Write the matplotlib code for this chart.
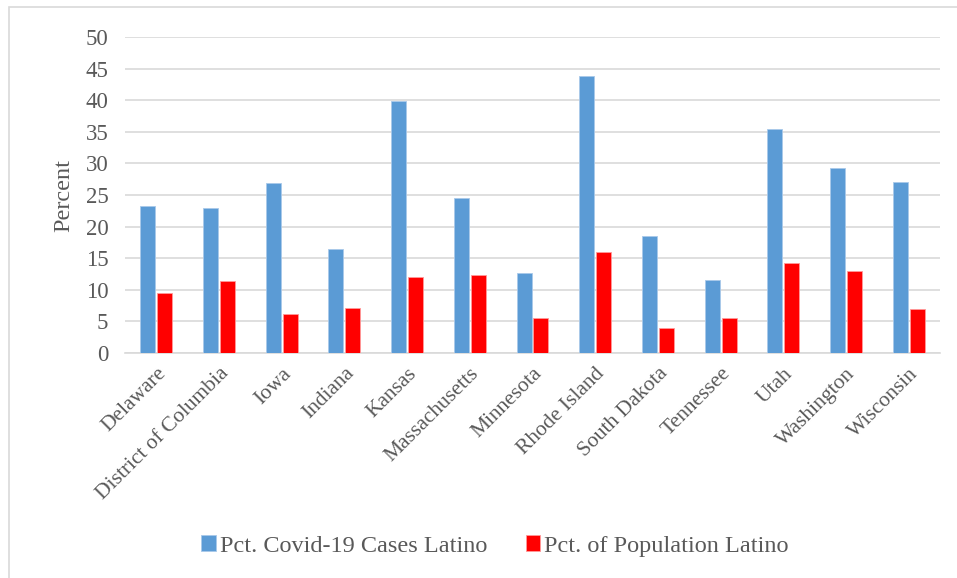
import matplotlib.pyplot as plt
import numpy as np
from matplotlib.patches import Rectangle

states = ["Delaware", "District of Columbia", "Iowa", "Indiana", "Kansas",
          "Massachusetts", "Minnesota", "Rhode Island", "South Dakota",
          "Tennessee", "Utah", "Washington", "Wisconsin"]

pct_cases = [23.2, 22.9, 26.9, 16.4, 39.9, 24.6, 12.7, 43.9, 18.5, 11.6, 35.5, 29.2, 27.1]
pct_population = [9.5, 11.4, 6.1, 7.1, 12.0, 12.3, 5.5, 16.0, 3.9, 5.6, 14.3, 13.0, 7.0]

TEXT = "#595959"
BLUE = "#5B9BD5"
RED = "#FF0000"

plt.rcParams['font.family'] = ['Liberation Serif', 'DejaVu Serif']

fig = plt.figure(figsize=(9.57, 5.78), dpi=100)
ax = fig.add_axes([125 / 957, 1 - 353 / 578, 815 / 957, 316 / 578])

x = np.arange(len(states))
w = 0.24
ax.bar(x - w / 2 - 0.015, pct_cases, w, color=BLUE, edgecolor="#a9c9ea",
       linewidth=0.6, label="Pct. Covid-19 Cases Latino", zorder=3)
ax.bar(x + w / 2 + 0.015, pct_population, w, color=RED, edgecolor="#ff9a9a",
       linewidth=0.6, label="Pct. of Population Latino", zorder=3)

ax.set_xlim(-0.5, len(states) - 0.5)
ax.set_ylim(0, 50)
ax.set_yticks(range(0, 51, 5))
ax.grid(axis="y", color="#d9d9d9", linewidth=1.2, zorder=0)
for s in ["top", "right", "left"]:
    ax.spines[s].set_visible(False)
ax.spines["bottom"].set_color("#d9d9d9")
ax.spines["bottom"].set_linewidth(1.2)
ax.tick_params(length=0, colors=TEXT, labelsize=16.5)
ax.tick_params(axis="y", pad=12)

ax.set_xticks(x)
ax.set_xticklabels(states, rotation=45, ha="right", rotation_mode="anchor",
                   fontsize=15.5, color=TEXT)
ax.tick_params(axis="x", pad=8)

ax.set_ylabel("Percent", fontsize=17.5, color=TEXT, labelpad=8)

fig.legend(loc="center", bbox_to_anchor=(495 / 957, 1 - 546 / 578), ncol=2,
           frameon=False, fontsize=17.5, labelcolor=TEXT, handlelength=0.6,
           handleheight=0.6, handletextpad=0.15, columnspacing=1.6)

# outer chart frame (only top and left edges show)
fig.patches.append(Rectangle((9 / 957, -0.1), 1.2, 1 - 7 / 578 + 0.1,
                             transform=fig.transFigure, fill=False,
                             edgecolor="#d9d9d9", linewidth=1.2))

fig.savefig("out.png", dpi=100)
